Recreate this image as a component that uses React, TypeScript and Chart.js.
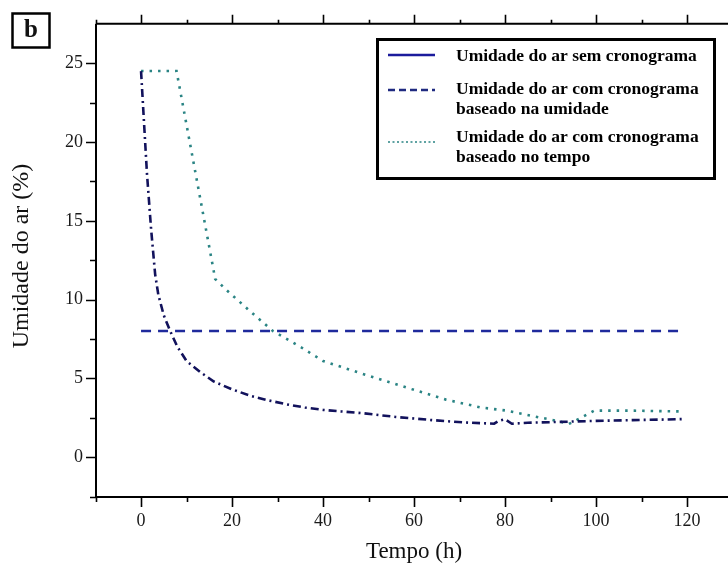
import React, { useEffect, useRef } from "react";
import { Chart, registerables } from "chart.js";

Chart.register(...registerables);

// ---- data ----
const legendLines: string[][] = [
  ["Umidade do ar sem cronograma"],
  ["Umidade do ar com cronograma", "baseado na umidade"],
  ["Umidade do ar com cronograma", "baseado no tempo"],
];

const semX = [0, 0.6, 1.3, 2.2, 3.1, 3.8, 5.0, 6.4, 8, 10, 13, 16, 20, 24, 28, 32, 36, 40, 44, 49, 56, 64, 71, 77.6, 78.6, 80, 81.5, 85, 90, 95, 100, 108, 114, 119.5];
const semY = [24.5, 21.5, 18, 14.5, 11.6, 10.3, 9.0, 8.0, 7.0, 6.1, 5.4, 4.8, 4.3, 3.9, 3.6, 3.35, 3.15, 3.0, 2.9, 2.78, 2.55, 2.35, 2.2, 2.12, 2.3, 2.4, 2.12, 2.18, 2.22, 2.26, 2.3, 2.35, 2.38, 2.42];

const umidX = [0, 119.5];
const umidY = [8, 8];

const tempoX = [0, 7.8, 16.3, 18.8, 24, 29, 35, 40, 48, 58.5, 67, 74.7, 80.4, 87.9, 91.5, 94, 96.7, 99.6, 108, 118.5];
const tempoY = [24.5, 24.5, 11.3, 10.6, 9.25, 8.0, 7.0, 6.1, 5.35, 4.4, 3.65, 3.15, 2.95, 2.5, 2.3, 2.1, 2.5, 2.95, 2.95, 2.9];

const xMajor = [0, 20, 40, 60, 80, 100, 120];
const xMinor = [-10, 10, 30, 50, 70, 90, 110];
const yMajor = [0, 5, 10, 15, 20, 25];
const yMinor = [-2.5, 2.5, 7.5, 12.5, 17.5, 22.5];

const FONT = '"Liberation Serif", "Times New Roman", serif';
const C_SEM = "#12125c";
const C_UMID = "#1f2a9c";
const C_TEMPO = "#2a8484";

const pts = (xs: number[], ys: number[]) => xs.map((x, i) => ({ x, y: ys[i] }));

const decor = {
  id: "decor",
  afterDraw(chart: any) {
    const { ctx, chartArea: a, scales } = chart;
    const x = scales.x;
    const y = scales.y;
    ctx.save();
    ctx.strokeStyle = "#000";
    ctx.lineWidth = 2;
    ctx.setLineDash([]);
    ctx.beginPath();
    ctx.moveTo(a.left, a.top);
    ctx.lineTo(a.right, a.top);
    ctx.moveTo(a.left, a.top);
    ctx.lineTo(a.left, a.bottom);
    ctx.moveTo(a.left - 1, a.bottom);
    ctx.lineTo(a.right, a.bottom);
    ctx.stroke();

    ctx.lineWidth = 1.6;
    ctx.beginPath();
    const xt = (v: number, len: number) => {
      const p = Math.round(x.getPixelForValue(v)) + 0.5;
      ctx.moveTo(p, a.bottom);
      ctx.lineTo(p, a.bottom + len);
      ctx.moveTo(p, a.top);
      ctx.lineTo(p, a.top - len + 1);
    };
    xMajor.forEach((v) => xt(v, 10));
    xMinor.forEach((v) => xt(v, 5));
    const yt = (v: number, len: number) => {
      const p = Math.round(y.getPixelForValue(v)) + 0.5;
      ctx.moveTo(a.left, p);
      ctx.lineTo(a.left - len, p);
    };
    yMajor.forEach((v) => yt(v, 10));
    yMinor.forEach((v) => yt(v, 6));
    ctx.stroke();

    // axis titles
    ctx.fillStyle = "#111";
    ctx.font = `23px ${FONT}`;
    ctx.textAlign = "center";
    ctx.textBaseline = "middle";
    ctx.fillText("Tempo (h)", (a.left + a.right) / 2 + 2, 552);
    ctx.save();
    ctx.translate(22, 256);
    ctx.rotate(-Math.PI / 2);
    ctx.font = `24px ${FONT}`;
    ctx.fillText("Umidade do ar (%)", 0, 0);
    ctx.restore();

    // panel label
    ctx.lineWidth = 2.5;
    ctx.strokeRect(12.5, 13.5, 37, 34);
    ctx.font = `bold 25px ${FONT}`;
    ctx.fillText("b", 31, 31);

    // legend
    ctx.lineWidth = 3;
    ctx.strokeRect(377.5, 39.5, 337, 139);
    const sx0 = 388;
    const sx1 = 435;
    ctx.lineWidth = 2.5;
    ctx.strokeStyle = "#1b1b9c";
    ctx.setLineDash([]);
    ctx.beginPath();
    ctx.moveTo(sx0, 55);
    ctx.lineTo(sx1, 55);
    ctx.stroke();
    ctx.strokeStyle = "#1f2a80";
    ctx.setLineDash([7, 4]);
    ctx.beginPath();
    ctx.moveTo(sx0, 90);
    ctx.lineTo(sx1, 90);
    ctx.stroke();
    ctx.strokeStyle = C_TEMPO;
    ctx.lineWidth = 1.5;
    ctx.setLineDash([2, 2.5]);
    ctx.beginPath();
    ctx.moveTo(sx0, 142);
    ctx.lineTo(sx1, 142);
    ctx.stroke();
    ctx.setLineDash([]);

    ctx.fillStyle = "#000";
    ctx.font = `bold 17.5px ${FONT}`;
    ctx.textAlign = "left";
    ctx.textBaseline = "middle";
    const rows = [[56], [89, 109], [137, 157]];
    legendLines.forEach((lines, i) => {
      lines.forEach((t, j) => ctx.fillText(t, 456, rows[i][j]));
    });
    ctx.restore();
  },
};

export default function App() {
  const ref = useRef<HTMLCanvasElement | null>(null);
  useEffect(() => {
    document.body.style.margin = "0";
    const canvas = ref.current;
    if (!canvas) return;
    const chart = new Chart(canvas, {
      type: "line",
      data: {
        datasets: [
          {
            label: legendLines[0].join(" "),
            data: pts(semX, semY),
            borderColor: C_SEM,
            borderWidth: 2.6,
            borderDash: [8, 4, 2, 4],
            pointRadius: 0,
            tension: 0,
            fill: false,
          },
          {
            label: legendLines[1].join(" "),
            data: pts(umidX, umidY),
            borderColor: C_UMID,
            borderWidth: 2.6,
            borderDash: [10, 7],
            pointRadius: 0,
            tension: 0,
            fill: false,
          },
          {
            label: legendLines[2].join(" "),
            data: pts(tempoX, tempoY),
            borderColor: C_TEMPO,
            borderWidth: 2.6,
            borderDash: [2.5, 6],
            pointRadius: 0,
            tension: 0,
            fill: false,
          },
        ],
      },
      options: {
        responsive: false,
        devicePixelRatio: 1,
        animation: false,
        layout: { padding: { top: 22, right: 0, left: 0, bottom: 0 } },
        plugins: { legend: { display: false }, tooltip: { enabled: false }, title: { display: false } },
        scales: {
          x: {
            type: "linear",
            min: -9.9,
            max: 129,
            grid: { display: false, drawTicks: false },
            border: { display: false },
            afterBuildTicks: (s: any) => {
              s.ticks = xMajor.map((v) => ({ value: v }));
            },
            afterFit: (s: any) => {
              s.height = 71;
            },
            ticks: {
              autoSkip: false,
              maxRotation: 0,
              padding: 13,
              color: "#1a1a1a",
              font: { family: FONT, size: 18 },
            },
          },
          y: {
            type: "linear",
            min: -2.53,
            max: 27.5,
            grid: { display: false, drawTicks: false },
            border: { display: false },
            afterBuildTicks: (s: any) => {
              s.ticks = yMajor.map((v) => ({ value: v }));
            },
            afterFit: (s: any) => {
              s.width = 96;
            },
            ticks: {
              autoSkip: false,
              padding: 13,
              color: "#1a1a1a",
              font: { family: FONT, size: 18 },
            },
          },
        },
      },
      plugins: [decor],
    } as any);
    return () => chart.destroy();
  }, []);
  return <canvas ref={ref} width={728} height={568} style={{ display: "block" }} />;
}
